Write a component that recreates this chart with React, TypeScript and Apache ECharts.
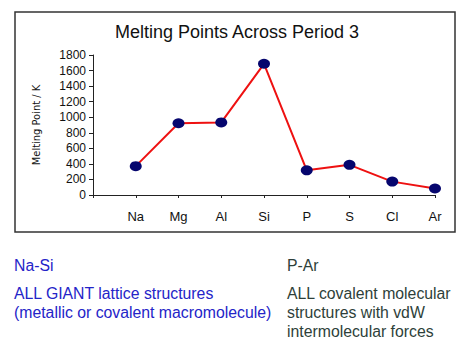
import React, { useEffect, useRef } from "react";
import * as echarts from "echarts";

const chartTitle = "Melting Points Across Period 3";
const yAxisName = "Melting Point / K";
const elements = ["", "Na", "Mg", "Al", "Si", "P", "S", "Cl", "Ar"];
const meltingPoints: (number | null)[] = [null, 371, 923, 933, 1687, 317, 388, 172, 84];
const leftHeading = "Na-Si";
const leftLines = ["ALL GIANT lattice structures", "(metallic or covalent macromolecule)"];
const rightHeading = "P-Ar";
const rightLines = ["ALL covalent molecular", "structures with vdW", "intermolecular forces"];

export default function App() {
  const ref = useRef<HTMLDivElement>(null);
  useEffect(() => {
    if (!ref.current) return;
    const chart = echarts.init(ref.current, null, { renderer: "svg" });
    const font = "Arial, 'Liberation Sans', sans-serif";
    const blue = "#2424c8";
    const green = "#2e3f3a";
    const textSize = 15.8;
    const graphic: any[] = [
      {
        type: "rect",
        shape: { x: 15, y: 12, width: 440, height: 220 },
        style: { fill: "none", stroke: "#333333", lineWidth: 1.5 },
        silent: true,
      },
      {
        type: "text",
        x: 14,
        y: 265,
        style: { text: leftHeading, fill: blue, font: `${textSize}px ${font}`, verticalAlign: "middle" },
      },
      {
        type: "text",
        x: 287,
        y: 265,
        style: { text: rightHeading, fill: green, font: `${textSize}px ${font}`, verticalAlign: "middle" },
      },
    ];
    leftLines.forEach((t, i) => {
      graphic.push({
        type: "text",
        x: 14,
        y: 293 + i * 19,
        style: { text: t, fill: blue, font: `${textSize}px ${font}`, verticalAlign: "middle" },
      });
    });
    rightLines.forEach((t, i) => {
      graphic.push({
        type: "text",
        x: 287,
        y: 293 + i * 19,
        style: { text: t, fill: green, font: `${textSize}px ${font}`, verticalAlign: "middle" },
      });
    });
    chart.setOption({
      animation: false,
      backgroundColor: "#ffffff",
      title: {
        text: chartTitle,
        left: "center",
        top: 18,
        textStyle: { fontFamily: font, fontSize: 18, fontWeight: "normal", color: "#111111" },
      },
      grid: { left: 93, right: 39, top: 55, bottom: 160, containLabel: false },
      xAxis: {
        type: "category",
        data: elements,
        boundaryGap: false,
        axisLine: { lineStyle: { color: "#222222", width: 1 } },
        axisTick: { show: true, length: 3, lineStyle: { color: "#222222" } },
        axisLabel: { margin: 15, fontFamily: font, fontSize: 13, color: "#111111" },
        splitLine: { show: false },
      },
      yAxis: {
        type: "value",
        min: 0,
        max: 1800,
        interval: 200,
        name: yAxisName,
        nameLocation: "middle",
        nameGap: 51,
        nameTextStyle: {
          fontFamily: "'Liberation Sans Narrow', 'DejaVu Sans Condensed', Arial, sans-serif",
          fontSize: 11,
          color: "#111111",
        },
        axisLine: { show: true, lineStyle: { color: "#222222", width: 1 } },
        axisTick: { show: true, length: 4, lineStyle: { color: "#222222" } },
        axisLabel: {
          margin: 7,
          fontFamily: font,
          fontSize: 12,
          color: "#111111",
          formatter: (v: number) => String(v),
        },
        splitLine: { show: false },
      },
      series: [
        {
          type: "line",
          data: meltingPoints,
          symbol: "circle",
          symbolSize: [12, 10],
          itemStyle: { color: "#06066e" },
          lineStyle: { color: "#ee1111", width: 2 },
          connectNulls: false,
          z: 3,
        },
      ],
      graphic,
    });
    return () => chart.dispose();
  }, []);
  return (
    <div
      ref={ref}
      style={{ position: "fixed", left: 0, top: 0, width: 474, height: 355, background: "#fff" }}
    />
  );
}
